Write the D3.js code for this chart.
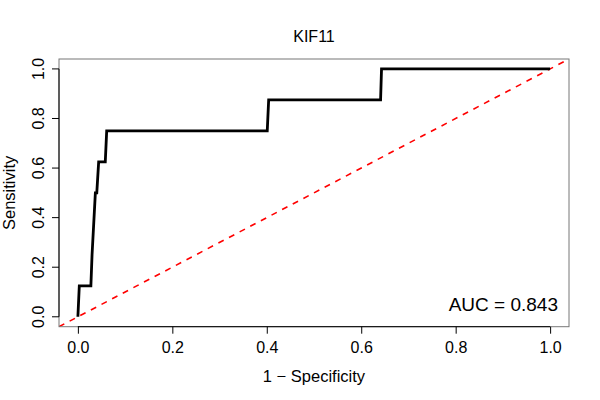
<!DOCTYPE html>
<html>
<head>
<meta charset="utf-8">
<script src="https://cdn.jsdelivr.net/npm/d3@7"></script>
<style>
  body { margin: 0; background: #fff; }
  svg { font-family: "Liberation Sans", Arial, sans-serif; }
</style>
</head>
<body>
<svg id="chart" width="600" height="400"></svg>
<script>
// ROC curve points
const fpr = [0, 0.003, 0.0275, 0.030, 0.037, 0.040, 0.044, 0.058, 0.061, 0.401, 0.404, 0.641, 0.643, 1];
const tpr = [0, 0.125, 0.125, 0.25, 0.5, 0.5, 0.625, 0.625, 0.75, 0.75, 0.875, 0.875, 1, 1];
const xTicks = [0, 0.2, 0.4, 0.6, 0.8, 1.0];
const yTicks = [0, 0.2, 0.4, 0.6, 0.8, 1.0];
const titleText = 'KIF11';
const aucText = 'AUC = 0.843';

const svg = d3.select('#chart');
const plotL = 59, plotR = 569, plotT = 59, plotB = 326.7;

// R style: 4% padding on each side of [0, 1]
const x = d3.scaleLinear().domain([-0.04, 1.04]).range([plotL, plotR]);
const y = d3.scaleLinear().domain([-0.04, 1.04]).range([plotB, plotT]);

svg.append('defs').append('clipPath').attr('id', 'plotClip')
    .append('rect')
    .attr('x', plotL).attr('y', plotT)
    .attr('width', plotR - plotL).attr('height', plotB - plotT);

// diagonal reference line
svg.append('line')
    .attr('clip-path', 'url(#plotClip)')
    .attr('x1', x(-0.04)).attr('y1', y(-0.04))
    .attr('x2', x(1.04)).attr('y2', y(1.04))
    .attr('stroke', '#ff0000')
    .attr('stroke-width', 1.6)
    .attr('stroke-dasharray', '6,6');

// ROC curve
const pts = fpr.map((d, i) => [d, tpr[i]]);
svg.append('path')
    .datum(pts)
    .attr('fill', 'none')
    .attr('stroke', '#000')
    .attr('stroke-width', 2.8)
    .attr('stroke-linejoin', 'miter')
    .attr('d', d3.line().x(d => x(d[0])).y(d => y(d[1])));

// box
svg.append('rect')
    .attr('x', plotL).attr('y', plotT)
    .attr('width', plotR - plotL).attr('height', plotB - plotT)
    .attr('fill', 'none')
    .attr('stroke', '#777')
    .attr('stroke-width', 1);

// x axis
const xAxis = svg.append('g')
    .attr('transform', `translate(0, ${plotB})`)
    .call(d3.axisBottom(x).tickValues(xTicks).tickFormat(d3.format('.1f'))
        .tickSize(7).tickPadding(4));
xAxis.select('.domain')
    .attr('d', `M${x(0)},0H${x(1)}`);
xAxis.selectAll('text')
    .attr('font-size', 16).attr('fill', '#000')
    .attr('font-family', '"Liberation Sans", Arial, sans-serif')
    .attr('y', 26.5).attr('dy', null);

// y axis
const yAxis = svg.append('g')
    .attr('transform', `translate(${plotL}, 0)`)
    .call(d3.axisLeft(y).tickValues(yTicks).tickFormat(d3.format('.1f'))
        .tickSize(7));
yAxis.select('.domain')
    .attr('d', `M0,${y(0)}V${y(1)}`);
yAxis.selectAll('.tick')
    .attr('transform', null);
yAxis.selectAll('.tick line')
    .attr('y1', d => y(d)).attr('y2', d => y(d));
yAxis.selectAll('text')
    .attr('font-size', 16).attr('fill', '#000')
    .attr('font-family', '"Liberation Sans", Arial, sans-serif')
    .attr('text-anchor', 'middle')
    .attr('x', null).attr('dy', null).attr('y', null)
    .attr('transform', d => `translate(${43.5 - plotL}, ${y(d)}) rotate(-90)`);

// title and axis labels
svg.append('text')
    .attr('x', (plotL + plotR) / 2).attr('y', 42.3)
    .attr('text-anchor', 'middle')
    .attr('font-size', 16)
    .text(titleText);

svg.append('text')
    .attr('x', (plotL + plotR) / 2).attr('y', 381.7)
    .attr('text-anchor', 'middle')
    .attr('font-size', 16.5)
    .text('1 \u2212 Specificity');

svg.append('text')
    .attr('transform', `translate(14.5, ${(plotT + plotB) / 2}) rotate(-90)`)
    .attr('text-anchor', 'middle')
    .attr('font-size', 16.5)
    .text('Sensitivity');

svg.append('text')
    .attr('x', 558).attr('y', 310.7)
    .attr('text-anchor', 'end')
    .attr('font-size', 19)
    .text(aucText);
</script>
</body>
</html>
